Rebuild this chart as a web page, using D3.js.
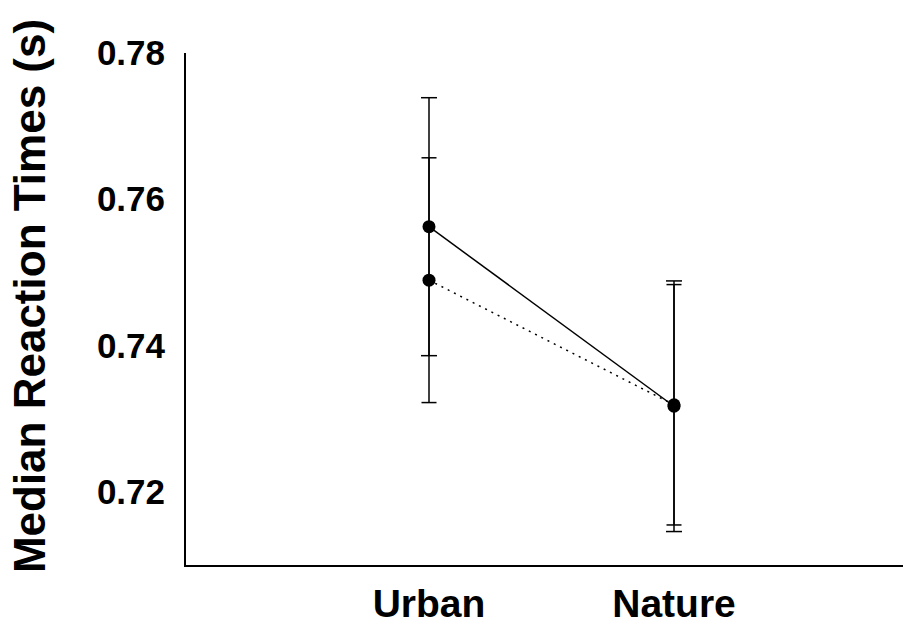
<!DOCTYPE html>
<html>
<head>
<meta charset="utf-8">
<script src="https://cdn.jsdelivr.net/npm/d3@7"></script>
<style>
  body { margin: 0; background: #fff; }
  svg { display: block; font-family: "Liberation Sans", Arial, sans-serif; }
</style>
</head>
<body>
<svg width="905" height="626"></svg>
<script>
const categories = ["Urban", "Nature"];
const solidMeans = [0.7563, 0.7318];
const solidErr = [0.0176, 0.0171];
const dottedMeans = [0.7490, 0.7320];
const dottedErr = [0.0167, 0.0164];
const yTicks = [0.72, 0.74, 0.76, 0.78];

const svg = d3.select("svg"),
      width = +svg.attr("width"),
      height = +svg.attr("height");

const axisLeft = 185, axisBottom = 566, axisTop = 53, axisRight = 903;

const x = d3.scalePoint().domain(categories).range([429, 674]);
const y = d3.scaleLinear().domain([0.71, 0.78]).range([axisBottom, axisTop]);

// axes
svg.append("line")
  .attr("x1", axisLeft).attr("x2", axisLeft)
  .attr("y1", y(0.78)).attr("y2", axisBottom)
  .attr("stroke", "#000").attr("stroke-width", 2);
svg.append("line")
  .attr("x1", axisLeft - 1).attr("x2", axisRight)
  .attr("y1", axisBottom).attr("y2", axisBottom)
  .attr("stroke", "#000").attr("stroke-width", 2);

const yAxis = svg.append("g")
  .attr("transform", `translate(${axisLeft},0)`)
  .call(d3.axisLeft(y).tickValues(yTicks).tickFormat(d3.format(".2f")).tickSize(0).tickPadding(20));
yAxis.select(".domain").remove();
yAxis.selectAll("text")
  .attr("font-size", 35).attr("font-weight", "bold")
  .attr("font-family", "'Liberation Sans', Arial, sans-serif")
  .attr("fill", "#000");

// category labels
svg.selectAll("text.cat").data(categories).enter().append("text")
  .attr("class", "cat")
  .attr("x", d => x(d))
  .attr("y", 617)
  .attr("text-anchor", "middle")
  .attr("font-size", 39).attr("font-weight", "bold")
  .text(d => d);

// y title
svg.append("text")
  .attr("transform", `translate(45,296) rotate(-90)`)
  .attr("text-anchor", "middle")
  .attr("font-size", 44).attr("font-weight", "bold")
  .text("Median Reaction Times (s)");

const series = [
  { means: solidMeans, err: solidErr, dash: null, cap: 16 },
  { means: dottedMeans, err: dottedErr, dash: "2,5", cap: 15 }
];

const line = d3.line().x((d, i) => x(categories[i])).y(d => y(d));

series.forEach(s => {
  // connecting line
  svg.append("path")
    .datum(s.means)
    .attr("d", line)
    .attr("fill", "none")
    .attr("stroke", "#000")
    .attr("stroke-width", 1.5)
    .attr("stroke-dasharray", s.dash);

  const pts = s.means.map((m, i) => ({ cat: categories[i], m, e: s.err[i] }));

  // error bars
  const eb = svg.append("g").selectAll("g").data(pts).enter().append("g");
  eb.append("line")
    .attr("x1", d => x(d.cat)).attr("x2", d => x(d.cat))
    .attr("y1", d => y(d.m + d.e)).attr("y2", d => y(d.m - d.e))
    .attr("stroke", "#000").attr("stroke-width", 1.5);
  [1, -1].forEach(sign => {
    eb.append("line")
      .attr("x1", d => x(d.cat) - s.cap / 2).attr("x2", d => x(d.cat) + s.cap / 2)
      .attr("y1", d => y(d.m + sign * d.e)).attr("y2", d => y(d.m + sign * d.e))
      .attr("stroke", "#000").attr("stroke-width", 1.5);
  });

  // points
  svg.append("g").selectAll("circle").data(pts).enter().append("circle")
    .attr("cx", d => x(d.cat))
    .attr("cy", d => y(d.m))
    .attr("r", 6.5)
    .attr("fill", "#000");
});
</script>
</body>
</html>
